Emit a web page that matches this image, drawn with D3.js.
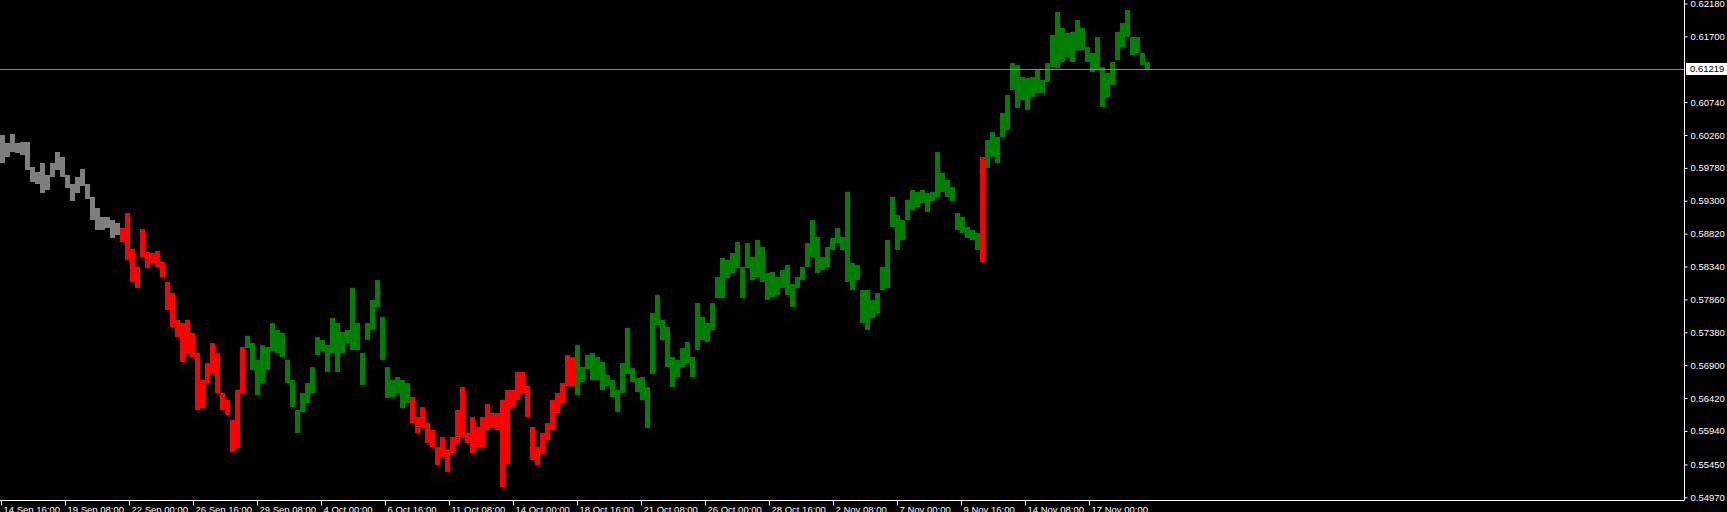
<!DOCTYPE html>
<html><head><meta charset="utf-8">
<script src="https://cdn.jsdelivr.net/npm/d3@7"></script>
<style>
html,body{margin:0;padding:0;background:#000;overflow:hidden}
svg{display:block}
text{font-family:"Liberation Sans",Arial,sans-serif;}
</style></head>
<body>
<script>
// ---- data: H1 bars sampled in groups of 5 bars (high / low per group) ----
const barsPerSample = 5;
const high = [
0.6026,0.6014,0.6027,0.6014,0.6016,0.6016,0.5979,0.5972,0.5985,0.5968,
0.5985,0.6001,0.5994,0.5968,0.5955,0.5964,0.5976,0.5955,0.5935,0.5920,
0.5906,0.5906,0.5902,0.5897,0.5890,0.5912,0.5860,0.5834,0.5889,0.5855,
0.5853,0.5857,0.5841,0.5811,0.5795,0.5756,0.5751,0.5756,0.5737,0.5708,
0.5668,0.5693,0.5722,0.5708,0.5649,0.5639,0.5610,0.5654,0.5716,0.5733,
0.5722,0.5697,0.5719,0.5716,0.5751,0.5741,0.5737,0.5697,0.5668,0.5625,
0.5649,0.5664,0.5687,0.5731,0.5727,0.5719,0.5759,0.5751,0.5738,0.5741,
0.5803,0.5751,0.5708,0.5752,0.5785,0.5815,0.5760,0.5687,0.5668,0.5673,
0.5668,0.5664,0.5643,0.5615,0.5629,0.5605,0.5595,0.5570,0.5585,0.5566,
0.5585,0.5625,0.5658,0.5591,0.5615,0.5599,0.5615,0.5633,0.5620,0.5620,
0.5639,0.5654,0.5654,0.5680,0.5680,0.5660,0.5599,0.5570,0.5591,0.5605,
0.5639,0.5649,0.5664,0.5705,0.5702,0.5719,0.5687,0.5705,0.5708,0.5702,
0.5694,0.5676,0.5668,0.5654,0.5693,0.5744,0.5686,0.5671,0.5673,0.5658,
0.5766,0.5792,0.5756,0.5746,0.5702,0.5697,0.5715,0.5724,0.5702,0.5781,
0.5760,0.5752,0.5781,0.5819,0.5846,0.5843,0.5853,0.5870,0.5834,0.5868,
0.5848,0.5873,0.5862,0.5824,0.5826,0.5819,0.5829,0.5836,0.5809,0.5819,
0.5834,0.5868,0.5902,0.5877,0.5848,0.5862,0.5875,0.5890,0.5877,0.5943,
0.5839,0.5836,0.5800,0.5800,0.5785,0.5795,0.5834,0.5873,0.5935,0.5909,
0.5902,0.5931,0.5946,0.5943,0.5946,0.5941,0.5943,0.6001,0.5971,0.5960,
0.5950,0.5912,0.5906,0.5892,0.5887,0.5883,0.5994,0.6019,0.6030,0.6023,
0.6058,0.6084,0.6131,0.6128,0.6111,0.6109,0.6111,0.6121,0.6106,0.6131,
0.6172,0.6206,0.6182,0.6175,0.6176,0.6194,0.6182,0.6154,0.6146,0.6169,
0.6125,0.6117,0.6133,0.6176,0.6190,0.6209,0.6169,0.6169,0.6146,0.6133];
const low = [
0.5985,0.5994,0.6001,0.5999,0.5997,0.5975,0.5957,0.5955,0.5941,0.5946,
0.5964,0.5975,0.5964,0.5948,0.5930,0.5941,0.5952,0.5932,0.5902,0.5887,
0.5887,0.5890,0.5875,0.5880,0.5870,0.5843,0.5811,0.5803,0.5848,0.5832,
0.5839,0.5834,0.5819,0.5770,0.5746,0.5731,0.5694,0.5708,0.5702,0.5625,
0.5627,0.5664,0.5677,0.5649,0.5625,0.5617,0.5563,0.5569,0.5649,0.5715,
0.5683,0.5646,0.5664,0.5683,0.5710,0.5708,0.5702,0.5664,0.5629,0.5591,
0.5622,0.5635,0.5649,0.5705,0.5710,0.5680,0.5708,0.5680,0.5708,0.5722,
0.5712,0.5712,0.5661,0.5727,0.5741,0.5775,0.5697,0.5642,0.5644,0.5649,
0.5627,0.5635,0.5605,0.5591,0.5599,0.5576,0.5570,0.5544,0.5556,0.5534,
0.5562,0.5576,0.5585,0.5576,0.5562,0.5570,0.5570,0.5595,0.5599,0.5595,
0.5512,0.5545,0.5629,0.5639,0.5649,0.5615,0.5551,0.5544,0.5562,0.5581,
0.5595,0.5620,0.5635,0.5660,0.5660,0.5646,0.5666,0.5685,0.5668,0.5668,
0.5654,0.5660,0.5644,0.5622,0.5649,0.5677,0.5666,0.5651,0.5639,0.5598,
0.5677,0.5748,0.5727,0.5687,0.5658,0.5673,0.5687,0.5693,0.5673,0.5712,
0.5727,0.5724,0.5741,0.5788,0.5788,0.5817,0.5824,0.5832,0.5788,0.5832,
0.5815,0.5819,0.5811,0.5785,0.5790,0.5792,0.5803,0.5792,0.5775,0.5802,
0.5815,0.5834,0.5848,0.5824,0.5829,0.5834,0.5858,0.5868,0.5858,0.5811,
0.5800,0.5815,0.5751,0.5741,0.5759,0.5766,0.5800,0.5802,0.5892,0.5858,
0.5873,0.5902,0.5916,0.5921,0.5927,0.5914,0.5929,0.5935,0.5943,0.5935,
0.5929,0.5887,0.5883,0.5875,0.5873,0.5858,0.5841,0.5978,0.5994,0.5985,
0.6023,0.6033,0.6092,0.6065,0.6077,0.6063,0.6082,0.6087,0.6087,0.6103,
0.6125,0.6124,0.6133,0.6140,0.6133,0.6150,0.6150,0.6133,0.6118,0.6121,
0.6067,0.6082,0.6099,0.6135,0.6154,0.6169,0.6143,0.6146,0.6128,0.6121];
// trend colouring: segment start (sample index) and state
const segStart = [0, 24, 49, 82, 115, 196, 197];
const segState = ["flat", "down", "up", "down", "up", "down", "up"];
// axis labels
const timeLabels = ["14 Sep 16:00","19 Sep 08:00","22 Sep 00:00","26 Sep 16:00","29 Sep 08:00",
 "4 Oct 00:00","6 Oct 16:00","11 Oct 08:00","14 Oct 00:00","18 Oct 16:00","21 Oct 08:00",
 "26 Oct 00:00","28 Oct 16:00","2 Nov 08:00","7 Nov 00:00","9 Nov 16:00","14 Nov 08:00","17 Nov 00:00"];
const barsPerLabel = 64;
const priceTicks = [0.62180,0.61700,0.60740,0.60260,0.59780,0.59300,0.58820,0.58340,
 0.57860,0.57380,0.56900,0.56420,0.55940,0.55450,0.54970];
const lastPrice = 0.61219;

// ---- layout ----
const W = 1727, H = 512;
const plotW = 1684, plotH = 500;
const colors = {flat:"#7f7f7f", down:"#ff0000", up:"#008000"};

const svg = d3.select("body").append("svg").attr("width", W).attr("height", H)
  .style("background", "#000");

const x = d3.scaleLinear().domain([0, plotW]).range([0, plotW]);
const y = d3.scaleLinear().domain([0.62231, 0.62231 - 0.000146 * plotH]).range([0, plotH]);

function stateOf(i) {
  let s = segState[0];
  for (let k = 0; k < segStart.length; k++) if (i >= segStart[k]) s = segState[k];
  return s;
}
const samples = high.map((h, i) => ({i, h, l: low[i], s: stateOf(i)}));

svg.append("defs").append("clipPath").attr("id", "plot")
  .append("rect").attr("x", 0).attr("y", 0).attr("width", plotW).attr("height", plotH);

const g = svg.append("g").attr("clip-path", "url(#plot)");
g.selectAll("rect.bar").data(samples).join("rect")
  .attr("class", "bar")
  .attr("x", d => x(d.i * barsPerSample))
  .attr("width", x(barsPerSample) - x(0))
  .attr("y", d => y(d.h))
  .attr("height", d => Math.max(1, y(d.l) - y(d.h)))
  .attr("fill", d => colors[d.s])
  .attr("shape-rendering", "crispEdges");

// current price line
g.append("line")
  .attr("x1", 0).attr("x2", plotW)
  .attr("y1", Math.round(y(lastPrice)) + 0.5).attr("y2", Math.round(y(lastPrice)) + 0.5)
  .attr("stroke", "#778899").attr("stroke-width", 1);

// right price axis
const yAxis = d3.axisRight(y).tickValues(priceTicks).tickSize(3).tickPadding(3)
  .tickFormat(d3.format(".5f"));
const ya = svg.append("g").attr("transform", `translate(${plotW + 0.5},0)`).call(yAxis);
ya.select(".domain").attr("stroke", "#fff").attr("d", `M0,0V${plotH + 0.5}`);
ya.selectAll(".tick line").attr("stroke", "#fff");
ya.selectAll(".tick text").attr("fill", "#fff").attr("font-size", "9.5px")
  .attr("font-family", "Liberation Sans, Arial, sans-serif");

// current price label
const py = Math.round(y(lastPrice));
svg.append("rect").attr("x", plotW + 2).attr("y", py - 6).attr("width", W - plotW - 2).attr("height", 12)
  .attr("fill", "#fff");
svg.append("text").attr("x", plotW + 6).attr("y", py).attr("dy", "0.35em")
  .attr("fill", "#000").attr("font-size", "9.5px").text(d3.format(".5f")(lastPrice));

// bottom time axis
const tickBars = timeLabels.map((t, k) => 1 + k * barsPerLabel);
const xAxis = d3.axisBottom(x).tickValues(tickBars).tickSize(5).tickPadding(1)
  .tickFormat((d, k) => timeLabels[k]);
const xa = svg.append("g").attr("transform", `translate(0,${plotH + 0.5})`).call(xAxis);
xa.select(".domain").attr("stroke", "#fff").attr("d", `M0,0H${plotW + 0.5}`);
xa.selectAll(".tick line").attr("stroke", "#fff");
xa.selectAll(".tick text").attr("fill", "#fff").attr("font-size", "9.5px")
  .attr("text-anchor", "start").attr("x", 2)
  .attr("font-family", "Liberation Sans, Arial, sans-serif");
</script>
</body></html>
